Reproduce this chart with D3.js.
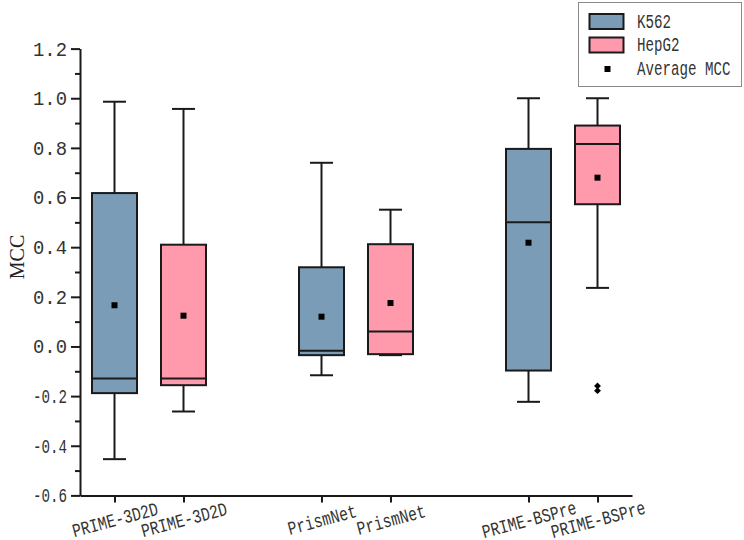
<!DOCTYPE html>
<html>
<head>
<meta charset="utf-8">
<script src="https://cdn.jsdelivr.net/npm/d3@7"></script>
<style>
  body { margin: 0; background: #fff; }
  svg { display: block; }
</style>
</head>
<body>
<div id="chart"></div>
<script>
// box plot of MCC per method / cell line

const groups = ["PRIME-3D2D", "PRIME-3D2D", "PrismNet", "PrismNet", "PRIME-BSPre", "PRIME-BSPre"];
const positions = [1, 2, 4, 5, 7, 8];
const cellLines = ["K562", "HepG2", "K562", "HepG2", "K562", "HepG2"];
const whiskerLow = [-0.454, -0.262, -0.116, -0.035, -0.223, 0.236];
const q1 = [-0.188, -0.156, -0.035, -0.031, -0.097, 0.573];
const median = [-0.129, -0.129, -0.017, 0.060, 0.500, 0.816];
const q3 = [0.618, 0.410, 0.319, 0.412, 0.796, 0.890];
const whiskerHigh = [0.986, 0.957, 0.740, 0.551, 1.0, 1.0];
const means = [0.166, 0.124, 0.120, 0.175, 0.418, 0.680];
const outliers = [[], [], [], [], [], [-0.159, -0.178]];
const yTicks = [-0.6, -0.4, -0.2, 0.0, 0.2, 0.4, 0.6, 0.8, 1.0, 1.2];
const yMinorTicks = [-0.5, -0.3, -0.1, 0.1, 0.3, 0.5, 0.7, 0.9, 1.1];
const legendItems = ["K562", "HepG2", "Average MCC"];

const width = 744, height = 540;
const colors = { "K562": "#7a9cb7", "HepG2": "#ff9aad" };
const ink = "#1a1a1a";
const monoFont = "'Liberation Mono', 'DejaVu Sans Mono', monospace";

const svg = d3.select("#chart").append("svg")
    .attr("width", width)
    .attr("height", height);

const x = d3.scaleLinear().domain([0.5, 8.5]).range([80, 632]);
const y = d3.scaleLinear().domain([-0.6, 1.2]).range([495.4, 48.6]);

const boxW = 45, capW = 23;

const rows = groups.map((g, i) => ({
    group: g, pos: positions[i], cell: cellLines[i],
    lo: whiskerLow[i], q1: q1[i], med: median[i], q3: q3[i], hi: whiskerHigh[i],
    mean: means[i], out: outliers[i]
}));

const box = svg.append("g").selectAll("g")
    .data(rows)
    .join("g");

// whisker stems
box.append("line")
    .attr("x1", d => x(d.pos)).attr("x2", d => x(d.pos))
    .attr("y1", d => y(d.hi)).attr("y2", d => y(d.q3))
    .attr("stroke", ink).attr("stroke-width", 2);
box.append("line")
    .attr("x1", d => x(d.pos)).attr("x2", d => x(d.pos))
    .attr("y1", d => y(d.q1)).attr("y2", d => y(d.lo))
    .attr("stroke", ink).attr("stroke-width", 2);

// caps
box.selectAll("line.cap")
    .data(d => [d.hi, d.lo].map(v => ({ pos: d.pos, v })))
    .join("line")
    .attr("class", "cap")
    .attr("x1", d => x(d.pos) - capW / 2).attr("x2", d => x(d.pos) + capW / 2)
    .attr("y1", d => y(d.v)).attr("y2", d => y(d.v))
    .attr("stroke", ink).attr("stroke-width", 2);

// boxes
box.append("rect")
    .attr("x", d => x(d.pos) - boxW / 2)
    .attr("y", d => y(d.q3))
    .attr("width", boxW)
    .attr("height", d => y(d.q1) - y(d.q3))
    .attr("fill", d => colors[d.cell])
    .attr("stroke", ink).attr("stroke-width", 2);

// median
box.append("line")
    .attr("x1", d => x(d.pos) - boxW / 2).attr("x2", d => x(d.pos) + boxW / 2)
    .attr("y1", d => y(d.med)).attr("y2", d => y(d.med))
    .attr("stroke", ink).attr("stroke-width", 2);

// mean marker
box.append("rect")
    .attr("x", d => x(d.pos) - 3)
    .attr("y", d => y(d.mean) - 3)
    .attr("width", 6).attr("height", 6)
    .attr("fill", "#000");

// outliers
box.selectAll("path.out")
    .data(d => d.out.map(v => ({ pos: d.pos, v })))
    .join("path")
    .attr("class", "out")
    .attr("transform", d => `translate(${x(d.pos)},${y(d.v)})`)
    .attr("d", d3.symbol(d3.symbolDiamond2, 30))
    .attr("fill", "#000");

// y axis
const yAxis = svg.append("g")
    .attr("transform", `translate(${x(0.5)},0)`)
    .call(d3.axisLeft(y).tickValues(yTicks).tickSize(9).tickSizeOuter(0)
        .tickFormat(d => d.toFixed(1)));
svg.append("g")
    .attr("transform", `translate(${x(0.5)},0)`)
    .call(d3.axisLeft(y).tickValues(yMinorTicks).tickSize(5).tickSizeOuter(0).tickFormat(""))
    .call(g => g.select(".domain").remove())
    .selectAll(".tick line").attr("stroke", ink).attr("stroke-width", 2);

yAxis.select(".domain").attr("stroke", ink).attr("stroke-width", 2);
yAxis.selectAll(".tick line").attr("stroke", ink).attr("stroke-width", 2);
yAxis.selectAll(".tick text")
    .attr("x", -13)
    .attr("font-family", monoFont)
    .attr("font-size", "20px")
    .attr("fill", "#333")
    .attr("textLength", 34)
    .attr("lengthAdjust", "spacingAndGlyphs");

// x axis
const xAxis = svg.append("g")
    .attr("transform", `translate(0,${y(-0.6)})`)
    .call(d3.axisBottom(x).tickValues(positions).tickSize(7).tickSizeOuter(0)
        .tickFormat((d, i) => groups[i]));
xAxis.select(".domain").attr("stroke", ink).attr("stroke-width", 2);
xAxis.selectAll(".tick line").attr("stroke", ink).attr("stroke-width", 2);
xAxis.selectAll(".tick text")
    .attr("y", 0).attr("dy", "0.35em")
    .attr("transform", "translate(0,24) rotate(-15)")
    .attr("text-anchor", "middle")
    .attr("font-family", monoFont)
    .attr("font-size", "19px")
    .attr("fill", "#333")
    .attr("textLength", (d, i) => groups[i].length * 8.8)
    .attr("lengthAdjust", "spacingAndGlyphs");

// y title
svg.append("text")
    .attr("transform", "translate(24,257) rotate(-90)")
    .attr("text-anchor", "middle")
    .attr("font-family", "'Liberation Serif', serif")
    .attr("font-size", "20px")
    .attr("fill", "#222")
    .text("MCC");

// legend
const legend = svg.append("g");
legend.append("rect")
    .attr("x", 578.5).attr("y", 2.5)
    .attr("width", 163).attr("height", 84)
    .attr("fill", "#fff")
    .attr("stroke", "#8a8a8a").attr("stroke-width", 1);

legendItems.forEach((name, i) => {
    const cy = 21.5 + i * 23.5;
    if (colors[name]) {
        legend.append("rect")
            .attr("x", 589.5).attr("y", cy - 7.5)
            .attr("width", 34).attr("height", 15)
            .attr("fill", colors[name])
            .attr("stroke", ink).attr("stroke-width", 2);
    } else {
        legend.append("rect")
            .attr("x", 604.5).attr("y", cy - 2.5)
            .attr("width", 6).attr("height", 6)
            .attr("fill", "#000");
    }
    legend.append("text")
        .attr("x", 637).attr("y", cy + 6)
        .attr("font-family", monoFont)
        .attr("font-size", "20px")
        .attr("fill", "#333")
        .attr("textLength", name.length * 8.5)
        .attr("lengthAdjust", "spacingAndGlyphs")
        .text(name);
});
</script>
</body>
</html>
